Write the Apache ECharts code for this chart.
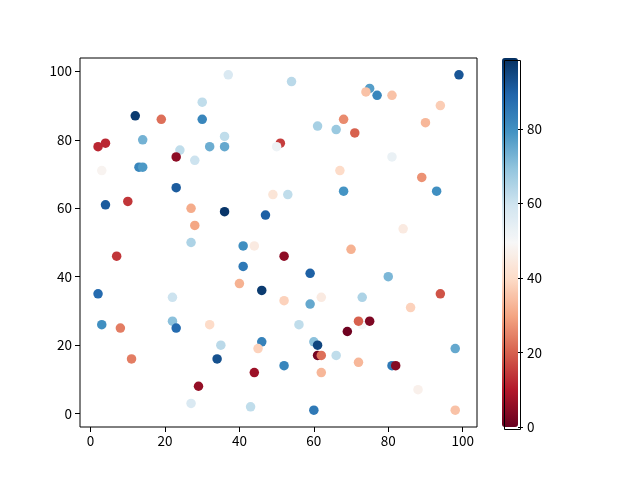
<!DOCTYPE html>
<html>
<head>
<meta charset="utf-8">
<script src="https://cdn.jsdelivr.net/npm/echarts@6/dist/echarts.min.js"></script>
<style>html,body{margin:0;padding:0;background:#fff}#c{width:640px;height:480px}</style>
</head>
<body>
<div id="c"></div>
<script>
const xVals = [30,12,19,30,14,2,4,24,32,23,28,13,14,3,23,4,10,27,28,27,
  37,54,61,66,68,36,36,51,50,67,68,49,53,36,47,41,44,99,75,74,77,81,94,90,71,81,89,93,84,
  7,2,22,3,8,22,23,32,11,34,29,27,
  52,41,59,40,46,52,59,62,56,46,45,35,60,61,61,62,66,52,62,44,43,60,69,
  70,80,94,73,86,73,72,75,98,81,82,72,88,98];
const yVals = [91,87,86,86,80,78,79,77,78,75,74,72,72,71,66,61,62,60,55,50,
  99,97,84,83,86,81,78,79,78,71,65,64,64,59,58,49,49,99,95,94,93,93,90,85,82,75,69,65,54,
  46,35,34,26,25,27,25,26,16,16,8,3,
  46,43,41,38,36,33,32,34,26,21,19,20,21,20,17,17,17,14,12,12,2,1,24,
  48,40,35,34,31,26,27,27,19,14,14,15,7,1];
const cVals = [62,97,22,82,73,12,12,62,74,5,60,82,78,48,91,91,14,31,30,65,
  57,63,66,68,26,62,75,15,52,40,79,43,62,98,90,80,45,92,77,35,82,35,37,33,20,53,27,80,45,
  14,88,60,80,24,70,88,40,24,93,6,57,
  5,85,90,32,97,38,75,45,62,83,38,63,70,95,2,22,62,82,33,7,62,85,1,
  32,72,18,65,38,50,20,3,75,85,4,33,47,35];
const cbTicks = [0,20,40,60,80];
const axisTicks = [0,20,40,60,80,100];

const pts = xVals.map((x,i)=>[x, yVals[i], cVals[i]]);
const rdbu = ['#67001f','#b2182b','#d6604d','#f4a582','#fddbc7','#f7f7f7','#d1e5f0','#92c5de','#4393c3','#2166ac','#053061'];
const font = '"Noto Sans CJK SC","DejaVu Sans",sans-serif';
const chart = echarts.init(document.getElementById('c'), null, {renderer:'canvas'});
const labelStyle = {color:'#000', fontSize:13.5, fontFamily:font};
chart.setOption({
  animation:false,
  backgroundColor:'#fff',
  grid:[
    {left:80, top:58, width:397, height:369, show:true, borderColor:'#000', borderWidth:1, backgroundColor:'transparent'},
    {left:502, top:58, width:16, height:369, show:false}
  ],
  xAxis:[
    {type:'value', gridIndex:0, min:-2.85, max:103.85, position:'bottom',
     axisLine:{show:false, onZero:false}, splitLine:{show:false},
     axisTick:{show:true, length:5, lineStyle:{color:'#000'}, customValues:axisTicks},
     axisLabel:{...labelStyle, margin:7, customValues:axisTicks}},
    {type:'value', gridIndex:1, min:0, max:1, show:false, axisLine:{onZero:false}}
  ],
  yAxis:[
    {type:'value', gridIndex:0, min:-3.9, max:103.9, position:'left',
     axisLine:{show:false, onZero:false}, splitLine:{show:false},
     axisTick:{show:true, length:5, lineStyle:{color:'#000'}, customValues:axisTicks},
     axisLabel:{...labelStyle, margin:8, customValues:axisTicks}},
    {type:'value', gridIndex:1, min:0, max:99, position:'right',
     axisLine:{show:false, onZero:false}, splitLine:{show:false},
     axisTick:{show:true, length:5, lineStyle:{color:'#000'}, customValues:cbTicks},
     axisLabel:{...labelStyle, margin:9, customValues:cbTicks}}
  ],
  visualMap:{
    type:'continuous', min:0, max:99, dimension:2, seriesIndex:0,
    calculable:false, realtime:false, hoverLink:false,
    left:502, top:58, itemWidth:16, itemHeight:369, padding:0,
    text:null, showLabel:false,
    inRange:{color:rdbu}
  },
  graphic:[{type:'rect', left:502, top:58, z:100, shape:{width:16, height:369},
    style:{fill:'none', stroke:'#000', lineWidth:1}}],
  series:[
    {type:'scatter', xAxisIndex:0, yAxisIndex:0, symbolSize:9.5, data:pts, itemStyle:{opacity:1}},
    {type:'scatter', xAxisIndex:1, yAxisIndex:1, data:[]}
  ]
});
</script>
</body>
</html>
